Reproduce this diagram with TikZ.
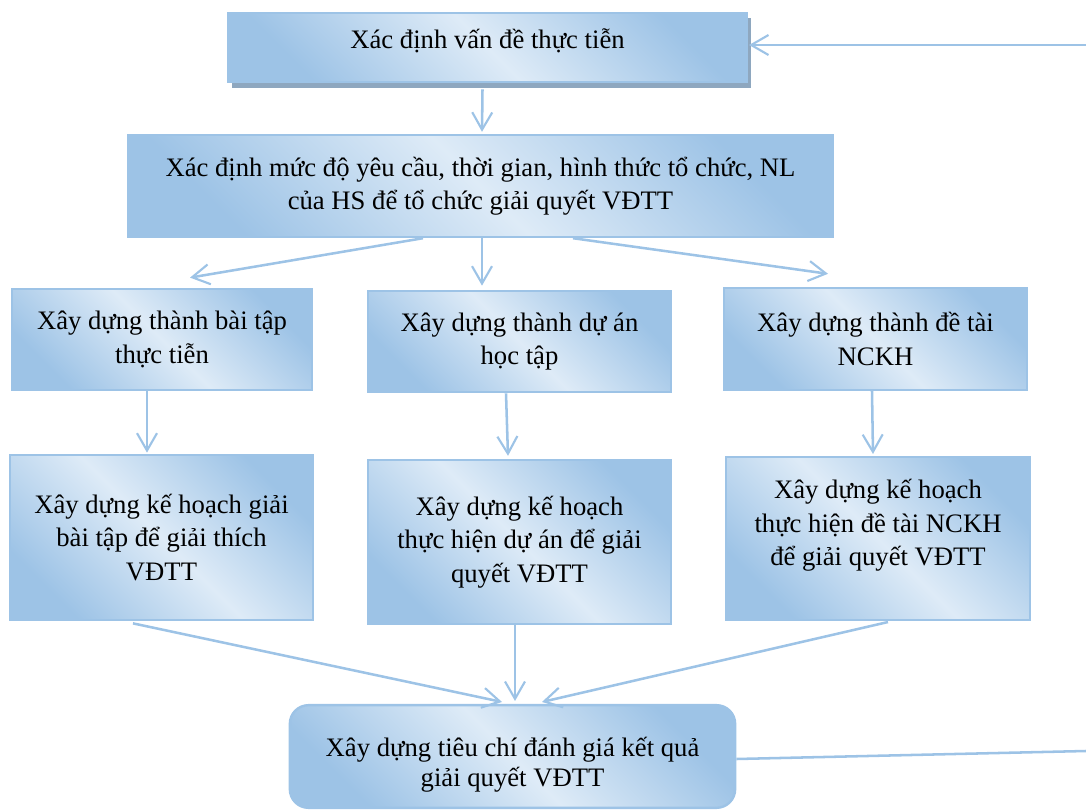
\documentclass[tikz,border=0pt]{standalone}
\usepackage{fontspec}
\setmainfont{Liberation Serif}
\usepackage{xcolor}
\usetikzlibrary{arrows.meta, positioning, calc, shadows}
\definecolor{boxdark}{HTML}{9DC3E6}
\definecolor{boxlight}{HTML}{DEEBF7}
\definecolor{lineblue}{HTML}{9DC3E6}
\definecolor{shadowblue}{HTML}{8EA7BF}

\begin{document}
\begin{tikzpicture}[
  x=0.75pt, y=-0.75pt,
  stage/.style={rectangle, draw=lineblue, line width=1.8pt, top color=boxdark, bottom color=boxdark, middle color=boxlight, shading angle=-45, align=center, inner sep=2pt, font=\fontsize{20}{25}\selectfont},
  arrow/.style={-{Straight Barb[length=13pt, width=15pt, line width=1.6pt]}, draw=lineblue, line width=1.9pt},
  link/.style={draw=lineblue, line width=1.9pt}
]
  \useasboundingbox (0,0) rectangle (1086,810);

  % Top
  \node[stage, text depth=14pt, minimum width=389pt, minimum height=52pt, drop shadow={shadow xshift=3pt, shadow yshift=-4pt, fill=shadowblue, opacity=1}] (problem) at (487.5, 47.5) {Xác định vấn đề thực tiễn};
  \node[stage, minimum width=529pt, minimum height=76.5pt] (require) at (480.5, 186) {Xác định mức độ yêu cầu, thời gian, hình thức tổ chức, NL\\của HS để tổ chức giải quyết VĐTT};

  % Forms
  \node[stage, minimum width=225pt, minimum height=76pt] (exercise) at (162, 339.5) {Xây dựng thành bài tập\\thực tiễn};
  \node[stage, minimum width=227pt, minimum height=76pt] (project) at (519.5, 341.5) {Xây dựng thành dự án\\học tập};
  \node[stage, minimum width=227pt, minimum height=76.5pt] (research) at (875.5, 339) {Xây dựng thành đề tài\\NCKH};

  % Plans
  \node[stage, minimum width=227pt, minimum height=124pt] (planA) at (161.5, 537.5) {Xây dựng kế hoạch giải\\bài tập để giải thích\\VĐTT};
  \node[stage, minimum width=227pt, minimum height=123pt] (planB) at (519.5, 542) {Xây dựng kế hoạch\\thực hiện dự án để giải\\quyết VĐTT};
  \node[stage, text depth=24pt, minimum width=228pt, minimum height=122pt] (planC) at (878, 538.5) {Xây dựng kế hoạch\\thực hiện đề tài NCKH\\để giải quyết VĐTT};

  % Criteria
  \node[stage, rounded corners=14pt, font=\fontsize{20}{23}\selectfont, text height=50pt, minimum width=334pt, minimum height=77pt] (criteria) at (512.5, 756.5) {Xây dựng tiêu chí đánh giá kết quả\\giải quyết VĐTT};

  % Loop ends
  \coordinate (loopin) at (1086, 45);
  \coordinate (loopout) at (1086, 751);

  \draw[arrow] ($(problem.south)+(-5,6)$) -- ($(require.north)+(1.5,-2)$);
  \draw[arrow] ($(require.south)+(-57.5,0)$) -- ($(exercise.north)+(28,-10)$);
  \draw[arrow] ($(require.south)+(1.5,0)$) -- ($(project.north)+(-37.5,-4)$);
  \draw[arrow] ($(require.south)+(92.5,0)$) -- ($(research.north)+(-47.5,-13)$);
  \draw[arrow] ($(exercise.south)+(-15,0)$) -- ($(planA.north)+(-14.5,-1)$);
  \draw[arrow] ($(project.south)+(-13.5,0)$) -- ($(planB.north)+(-11.5,-3)$);
  \draw[arrow] ($(research.south)+(-3.5,0)$) -- ($(planC.north)+(-5,-2)$);
  \draw[arrow] ($(planA.south)+(-28.5,2)$) -- ($(criteria.north)+(-10.5,-2)$);
  \draw[arrow] ($(planB.south)+(-4.5,0)$) -- ($(criteria.north)+(2.5,-3)$);
  \draw[arrow] ($(planC.south)+(10,1)$) -- ($(criteria.north)+(29.5,-2)$);
  \draw[arrow] (loopin) -- ($(problem.east)+(1,-2.5)$);
  \draw[link] ($(criteria.east)+(0,2.5)$) -- (loopout);
\end{tikzpicture}
\end{document}
